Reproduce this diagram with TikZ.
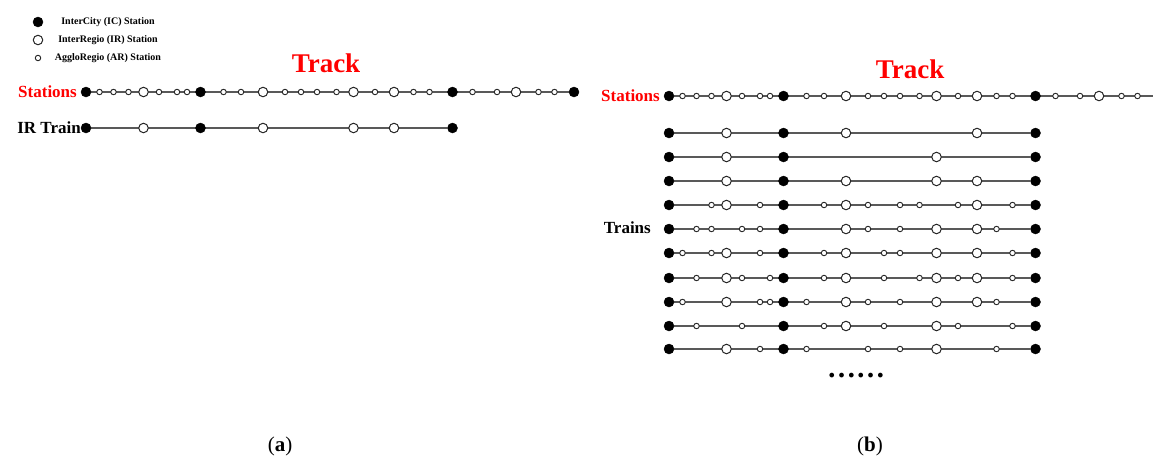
\documentclass[tikz,border=0pt]{standalone}
\usepackage{fontspec}
\setmainfont{Liberation Serif}
\usetikzlibrary{backgrounds}

\tikzset{
  st1/.style={circle,inner sep=0pt,minimum size=10pt,fill=black,draw=black},
  st2/.style={circle,inner sep=0pt,minimum size=9.5pt,fill=white,draw=black!85,line width=1pt},
  st3/.style={circle,inner sep=0pt,minimum size=5.5pt,fill=white,draw=black!85,line width=0.9pt},
  trackline/.style={draw=black!65,line width=1.3pt},
  keytext/.style={font=\bfseries\fontsize{10}{10}\selectfont,inner sep=0pt},
  tracktitle/.style={text=red,font=\bfseries\fontsize{27}{27}\selectfont,inner sep=0pt},
  rowlabel/.style={font=\bfseries\fontsize{17}{17}\selectfont,inner sep=0pt,anchor=east},
  subcap/.style={font=\fontsize{21}{21}\selectfont,inner sep=0pt}
}

% station offsets along the line and kind (1 IC, 2 IR, 3 AR)
\def\stx{{0,13.5,27.5,42.5,57.5,73,91,101,114.5,137.5,155,177,199,215,231,250.5,267.5,289,308,327.5,343.5,366.5,386.5,411,430,452.5,468.5,488}}
\def\stkind{{1,3,3,3,2,3,3,3,1,3,3,2,3,3,3,3,2,3,2,3,3,1,3,3,2,3,3,1}}

\newcommand\stationrow[4]{%
  \foreach \i in {#4} {
    \pgfmathsetmacro\px{#2+\stx[\i]}
    \pgfmathtruncatemacro\kind{\stkind[\i]}
    \node[st\kind] (#1-\i) at (\px,#3) {};
  }
}

\begin{document}
\begin{tikzpicture}[x=1pt,y=-1pt]
\useasboundingbox (0,0) rectangle (1153,464);

% key
\node[st1] (keyIC) at (38,22) {};
\node[st2] (keyIR) at (38,40) {};
\node[st3] (keyAR) at (38,58) {};
\node[keytext] (keyICt) at (108,22) {InterCity (IC) Station};
\node[keytext] (keyIRt) at (108,40) {InterRegio (IR) Station};
\node[keytext] (keyARt) at (108,58) {AggloRegio (AR) Station};

% (a)
\node[tracktitle] (trackA) at (326,63) {Track};
\node[rowlabel,text=red] (stalabA) at (77,92) {Stations};
\node[rowlabel] (irlab) at (81,128) {IR Train};
\stationrow{stA}{86}{92}{0,...,27}
\stationrow{irA}{86}{128}{0,4,8,11,16,18,21}
\node[subcap] (capA) at (280,446) {(\textbf{a})};

% (b)
\node[tracktitle] (trackB) at (910,69) {Track};
\node[rowlabel,text=red] (stalabB) at (660,96) {Stations};
\node[rowlabel] (trainlab) at (651,228) {Trains};
\stationrow{stB}{669}{96}{0,...,26}
\coordinate (stB-end) at (1153,96);
\stationrow{r1}{669}{133}{0,4,8,11,18,21}
\stationrow{r2}{669}{157}{0,4,8,16,21}
\stationrow{r3}{669}{181}{0,4,8,11,16,18,21}
\stationrow{r4}{669}{205}{0,3,4,6,8,10,11,12,14,15,17,18,20,21}
\stationrow{r5}{669}{229}{0,2,3,5,6,8,11,12,14,16,18,19,21}
\stationrow{r6}{669}{253}{0,1,3,4,6,8,10,11,13,14,16,18,20,21}
\stationrow{r7}{669}{278}{0,2,4,5,7,8,10,11,13,15,16,17,18,20,21}
\stationrow{r8}{669}{302}{0,1,4,6,7,8,9,11,12,14,16,18,19,21}
\stationrow{r9}{669}{326}{0,2,5,8,10,11,13,16,17,20,21}
\stationrow{r10}{669}{349}{0,4,6,8,9,12,14,16,19,21}
\node[font=\bfseries\fontsize{29}{29}\selectfont,inner sep=0pt] (more) at (856,376) {……};
\node[subcap] (capB) at (870,446) {(\textbf{b})};

\begin{pgfonlayer}{background}
\draw[trackline] (stA-0) -- (stA-27);
\draw[trackline] (irA-0) -- (irA-21);
\draw[trackline] (stB-0) -- (stB-end);
\foreach \r in {1,...,10}
  \draw[trackline] (r\r-0) -- (r\r-21);
\end{pgfonlayer}

\end{tikzpicture}
\end{document}
